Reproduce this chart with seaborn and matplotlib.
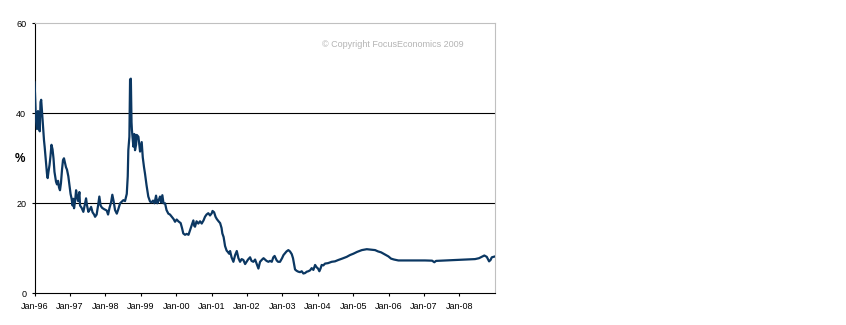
import matplotlib
matplotlib.use("Agg")
import matplotlib.pyplot as plt
import matplotlib.dates as mdates
import numpy as np
import pandas as pd
import seaborn as sns

# Weekly-ish observations of the rate (%), 1996-2008
dates = [
    "1996-01-01", "1996-01-06", "1996-01-16", "1996-01-27", "1996-02-06", "1996-02-16",
    "1996-02-24", "1996-03-03", "1996-03-10", "1996-03-18", "1996-03-29", "1996-04-08",
    "1996-04-15", "1996-04-29", "1996-05-09", "1996-05-16", "1996-05-24", "1996-06-04",
    "1996-06-14", "1996-06-24", "1996-07-05", "1996-07-15", "1996-07-25", "1996-08-10",
    "1996-08-20", "1996-08-31", "1996-09-10", "1996-09-20", "1996-09-30", "1996-10-11",
    "1996-10-21", "1996-10-31", "1996-11-11", "1996-11-21", "1996-12-01", "1996-12-15",
    "1996-12-27",
    "1997-01-07", "1997-01-18", "1997-01-28", "1997-02-05", "1997-02-12", "1997-02-23",
    "1997-03-05", "1997-03-15", "1997-03-26", "1997-04-08", "1997-04-15", "1997-05-01",
    "1997-05-19", "1997-06-01", "1997-06-16", "1997-06-26", "1997-07-10", "1997-07-22",
    "1997-08-07", "1997-08-22", "1997-09-07", "1997-09-17", "1997-10-03", "1997-10-18",
    "1997-10-31", "1997-11-13", "1997-11-28", "1997-12-19",
    "1998-01-15", "1998-01-29", "1998-02-13", "1998-03-01", "1998-03-14", "1998-03-27",
    "1998-04-11", "1998-04-29", "1998-05-12", "1998-06-02", "1998-06-17", "1998-07-06",
    "1998-07-23", "1998-08-10", "1998-08-20", "1998-08-26", "1998-09-06", "1998-09-13",
    "1998-09-21", "1998-09-28", "1998-10-02", "1998-10-17", "1998-10-27", "1998-11-03",
    "1998-11-14", "1998-11-21", "1998-12-08", "1998-12-25",
    "1999-01-11", "1999-01-22", "1999-02-04", "1999-02-14", "1999-03-02", "1999-03-20",
    "1999-04-07", "1999-04-22", "1999-05-08", "1999-05-23", "1999-06-08", "1999-06-21",
    "1999-07-04", "1999-07-19", "1999-07-30", "1999-08-12", "1999-08-24", "1999-09-09",
    "1999-09-24", "1999-10-13", "1999-10-30", "1999-11-17", "1999-12-06", "1999-12-21",
    "2000-01-07", "2000-01-24", "2000-02-17", "2000-03-02", "2000-03-15", "2000-04-02",
    "2000-04-19", "2000-05-08", "2000-05-23", "2000-06-08", "2000-06-27", "2000-07-06",
    "2000-07-14", "2000-07-30", "2000-08-17", "2000-09-04", "2000-09-21", "2000-10-10",
    "2000-10-25", "2000-11-10", "2000-11-28", "2000-12-16",
    "2001-01-03", "2001-01-11", "2001-01-27", "2001-02-11", "2001-02-24", "2001-03-14",
    "2001-03-30", "2001-04-14", "2001-04-22", "2001-05-05", "2001-05-20", "2001-06-05",
    "2001-06-17", "2001-07-01", "2001-07-11", "2001-07-26", "2001-08-14", "2001-09-01",
    "2001-09-18", "2001-10-05", "2001-10-22", "2001-11-07", "2001-11-25", "2001-12-13",
    "2001-12-28",
    "2002-01-12", "2002-02-02", "2002-02-17", "2002-03-08", "2002-03-26", "2002-04-12",
    "2002-04-29", "2002-05-16", "2002-06-06", "2002-06-21", "2002-07-07", "2002-07-22",
    "2002-08-10", "2002-08-27", "2002-09-14", "2002-09-30", "2002-10-13", "2002-11-04",
    "2002-11-18", "2002-12-08", "2002-12-29",
    "2003-01-13", "2003-01-29", "2003-02-13", "2003-03-04", "2003-03-21", "2003-04-08",
    "2003-04-21", "2003-05-02", "2003-05-12", "2003-05-28", "2003-06-15", "2003-07-03",
    "2003-07-20", "2003-08-06", "2003-08-23", "2003-09-10", "2003-09-26", "2003-10-14",
    "2003-10-31", "2003-11-17", "2003-12-05", "2003-12-20",
    "2004-01-04", "2004-01-18", "2004-01-30", "2004-02-11", "2004-02-28", "2004-03-16",
    "2004-04-16", "2004-05-24", "2004-06-27", "2004-07-31", "2004-09-08", "2004-10-26",
    "2004-11-29",
    "2005-01-03", "2005-02-10", "2005-03-31", "2005-05-21", "2005-07-05", "2005-08-15",
    "2005-09-15", "2005-10-16", "2005-11-26", "2005-12-30",
    "2006-01-27", "2006-02-27", "2006-04-12", "2006-06-20", "2006-10-01",
    "2007-01-12", "2007-03-26", "2007-04-18", "2007-05-06", "2007-08-07", "2007-11-18",
    "2008-03-01", "2008-06-11", "2008-07-22", "2008-08-19", "2008-09-15", "2008-10-10",
    "2008-11-03", "2008-11-18", "2008-12-01", "2009-01-05",
]

rate = [
    47.0, 44.5, 38.5, 36.5, 40.5, 37.0,
    36.0, 42.5, 43.0, 40.5, 37.0, 34.0,
    32.5, 29.0, 26.5, 25.6, 27.0, 28.5,
    30.5, 33.0, 32.0, 30.0, 27.0, 24.8,
    24.2, 25.0, 23.5, 22.9, 24.5, 27.5,
    29.6, 30.0, 29.0, 28.0, 27.5, 26.0,
    24.0,
    22.1, 21.0, 19.5, 21.0, 18.9, 20.5,
    22.9, 21.5, 20.5, 22.5, 19.5, 19.0,
    18.1, 19.5, 21.1, 19.5, 18.1, 18.5,
    19.2, 18.0, 17.5, 17.0, 17.5, 19.5,
    21.5, 19.5, 19.0, 18.7,
    18.4, 17.5, 19.0, 20.2, 21.9, 20.5,
    18.5, 17.7, 18.5, 20.0, 20.3, 20.7,
    20.5, 22.1, 26.0, 31.8, 34.8, 47.5,
    47.7, 38.0, 36.3, 32.6, 35.4, 31.8,
    33.0, 35.2, 34.8, 31.5,
    33.6, 30.2, 28.0, 26.6, 24.0, 21.5,
    20.4, 20.2, 20.6, 20.0, 21.7, 20.0,
    20.6, 21.5, 20.2, 21.8, 20.0, 20.0,
    18.5, 17.7, 17.5, 17.0, 16.5, 15.9,
    16.4, 16.0, 15.6, 14.5, 13.3, 13.0,
    13.2, 13.0, 14.0, 15.0, 16.2, 15.0,
    14.8, 16.0, 15.5, 16.0, 15.5, 16.2,
    17.0, 17.5, 17.8, 17.3,
    17.8, 18.3, 18.0, 17.0, 16.5, 16.0,
    15.6, 14.5, 13.3, 12.5, 10.5, 9.5,
    9.2, 8.8, 9.4, 8.0, 7.0, 8.5,
    9.4, 7.8, 7.0, 7.6, 7.4, 6.5,
    7.0,
    7.5, 8.0, 7.2, 7.0, 7.5, 6.5,
    5.5, 7.0, 7.5, 7.8, 7.5, 7.2,
    7.0, 7.2, 7.0, 8.0, 8.3, 7.3,
    7.0, 7.0, 7.8,
    8.5, 8.9, 9.3, 9.6, 9.3, 8.7,
    7.8, 6.5, 5.3, 5.0, 4.8, 4.7,
    4.9, 4.4, 4.5, 4.8, 4.9, 5.1,
    5.6, 5.2, 6.3, 5.8,
    5.5, 4.9, 5.5, 6.3, 6.2, 6.6,
    6.7, 7.0, 7.1, 7.4, 7.7, 8.1,
    8.5,
    8.8, 9.2, 9.6, 9.8, 9.7, 9.6,
    9.3, 9.1, 8.6, 8.2,
    7.7, 7.5, 7.3, 7.3, 7.3,
    7.3, 7.25, 6.9, 7.2, 7.3, 7.4,
    7.5, 7.6, 7.8, 8.1, 8.4, 8.1,
    7.1, 7.4, 8.0, 8.2,
]

year_ticks = ["1996", "1997", "1998", "1999", "2000", "2001", "2002",
              "2003", "2004", "2005", "2006", "2007", "2008"]
y_ticks = [0, 20, 40, 60]

df = pd.DataFrame({"date": pd.to_datetime(dates), "rate": rate})

sns.set_style("white")
plt.rcParams["font.family"] = ["Liberation Sans", "DejaVu Sans"]

W, H = 846, 325
fig = plt.figure(figsize=(W / 100, H / 100), dpi=100)
ax = fig.add_axes([34.5 / W, (H - 293.3) / H, (495 - 34.5) / W, (293.3 - 23.3) / H])

line_color = "#0b3762"
sns.lineplot(data=df, x="date", y="rate", ax=ax, color=line_color,
             linewidth=1.6, zorder=3)

ax.set_xlim(pd.Timestamp("1996-01-01"), pd.Timestamp("2009-01-03"))
ax.set_ylim(0, 60)
ax.set_yticks(y_ticks)
ax.set_yticklabels([str(v) for v in y_ticks])
ax.set_xticks(pd.to_datetime([y + "-01-01" for y in year_ticks]))
ax.xaxis.set_major_formatter(mdates.DateFormatter("%b-%y"))

# horizontal rules at 20 and 40
for v in (20, 40):
    ax.axhline(v, color="black", linewidth=0.8, zorder=2)

for side in ("left", "bottom"):
    ax.spines[side].set_color("black")
    ax.spines[side].set_linewidth(0.8)
for side in ("top", "right"):
    ax.spines[side].set_color("#c0c0c0")
    ax.spines[side].set_linewidth(0.8)

ax.tick_params(axis="both", direction="out", length=2.5, width=0.8,
               color="black", labelsize=6.5, labelcolor="black")
ax.tick_params(axis="y", pad=3.5)
ax.tick_params(axis="x", pad=4)
ax.tick_params(left=True, bottom=True)

ax.set_xlabel("")
ax.set_ylabel("")
fig.text(20 / W, 1 - 159 / H, "%", ha="center", va="center",
         fontsize=8.5, fontweight="bold", color="black")

ax.text(393 / W, 1 - 44.5 / H, "\u00a9 Copyright FocusEconomics 2009",
        transform=fig.transFigure, ha="center", va="center",
        fontsize=6.5, color="#b4b4b4")

fig.savefig("out.png", dpi=100, facecolor="white")
